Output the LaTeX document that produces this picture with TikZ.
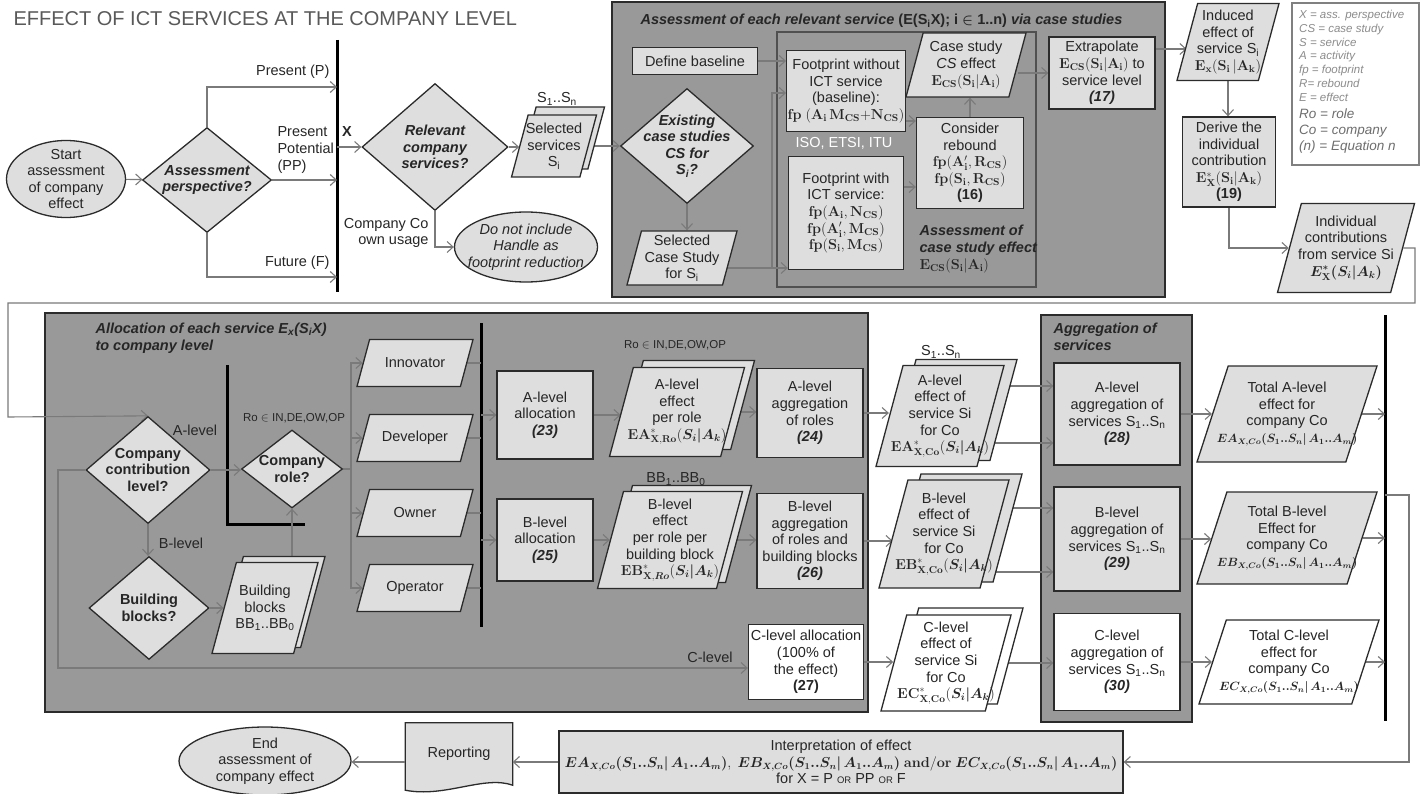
\documentclass[tikz,border=0pt]{standalone}
\usepackage[no-math]{fontspec}
\setmainfont{Liberation Sans}
\usepackage{amsmath,bm}
\usetikzlibrary{shapes.geometric,arrows.meta}

\definecolor{panel}{RGB}{153,153,153}
\definecolor{boxfill}{RGB}{222,222,222}
\definecolor{boxline}{RGB}{43,43,43}
\definecolor{innerline}{RGB}{80,80,80}
\definecolor{flowline}{RGB}{122,122,122}
\definecolor{ink}{RGB}{38,38,38}
\definecolor{titlegray}{RGB}{89,89,89}
\definecolor{legendA}{RGB}{140,140,140}
\definecolor{legendB}{RGB}{110,110,110}
\definecolor{legendframe}{RGB}{128,128,128}

\newcommand{\bodysize}{\fontsize{14.5}{16.6}\selectfont}
\newcommand{\smallsize}{\fontsize{11.5}{13.8}\selectfont}
\newcommand{\keysize}{\fontsize{13.5}{15.6}\selectfont}
\newcommand{\formulasize}{\fontsize{11.5}{13.5}\selectfont}
\newcommand{\headsize}{\fontsize{20}{24}\selectfont}
\newcommand{\orsize}{\fontsize{9.5}{10}\selectfont}

\pgfdeclarelayer{panels}
\pgfdeclarelayer{lines}
\pgfsetlayers{panels,lines,main}

\tikzset{
	box/.style={rectangle, draw=boxline, fill=boxfill, line width=1.3pt, inner sep=1pt, align=center},
	wbox/.style={box, fill=white},
	para/.style 2 args={trapezium, trapezium left angle=75, trapezium right angle=105, trapezium stretches body, draw=boxline, fill=boxfill, line width=1.3pt, inner xsep=0pt, inner ysep={#2/2}, minimum width=#1},
	wpara/.style 2 args={para={#1}{#2}, fill=white},
	widepara/.style 2 args={para={#1}{#2}, trapezium left angle=72, trapezium right angle=108},
	question/.style={diamond, draw=boxline, fill=boxfill, line width=1.3pt, inner sep=0pt},
	terminal/.style={ellipse, draw=boxline, fill=boxfill, line width=1.3pt, inner sep=0pt},
	lbl/.style={align=center, inner sep=0pt},
	txt/.style={label={[lbl]center:{#1}}},
	asktxt/.style={label={[lbl, font=\bodysize\bfseries\itshape]center:{#1}}},
	boldtxt/.style={label={[lbl, font=\bodysize\bfseries]center:{#1}}},
	itxt/.style={label={[lbl, font=\bodysize\itshape]center:{#1}}},
	flow/.style={draw=flowline, line width=1.1pt, -{Straight Barb[length=6pt, width=11pt]}},
	link/.style={draw=flowline, line width=1.1pt},
	bigbar/.style={draw=black, line width=3pt},
	panelbox/.style={draw=boxline, fill=panel, line width=1.4pt},
	smalltext/.style={font=\smallsize},
	heading/.style={font=\headsize, text=titlegray},
	areatitle/.style={font=\bodysize\bfseries\itshape, align=left},
	keysmall/.style={font=\smallsize\itshape, text=legendA, align=left, inner sep=0pt},
	keybig/.style={font=\keysize\itshape, text=legendB, align=left, inner sep=0pt}
}

\begin{document}
\begin{tikzpicture}[x=1pt, y=-1pt, every node/.style={font=\bodysize, text=ink}]
	\useasboundingbox (0, 0) rectangle (1426, 794);
	\begin{pgfonlayer}{panels}
		\draw [panelbox] (612, 2) rectangle (1165, 297);
		\draw [draw=innerline, line width=1.2pt] (777, 32) rectangle (1036, 287);
		\draw [draw=legendframe, fill=white, line width=1.2pt] (1292, 3) rectangle (1419, 165);
		\draw [panelbox] (45, 313) rectangle (868, 712);
		\draw [panelbox] (1041, 315) rectangle (1192, 722);
	\end{pgfonlayer}

	\draw (10, 18.5) node [anchor=west, heading] (title) {EFFECT OF ICT SERVICES AT THE COMPANY LEVEL};

	\draw (66, 179) node [terminal, minimum width=119, minimum height=77, txt={Start\\assessment\\of company\\effect}] (start) {};
	\draw (207, 180) node [question, minimum width=129, minimum height=105, asktxt={Assessment\\perspective?}] (persp) {};
	\coordinate (xbar) at (337, 40);
	\draw (333, 72) node [anchor=east] (lp) {Present (P)};
	\draw (274, 150) node [anchor=west, align=left] (lpp) {Present\\Potential\\(PP)};
	\draw (333, 263) node [anchor=east] (lf) {Future (F)};
	\draw (347, 132) node [font=\bodysize\bfseries] (lx) {X};
	\draw (435, 147) node [question, minimum width=146, minimum height=127, asktxt={Relevant\\company\\services?}] (rel) {};
	\draw (562, 138) node [para={85}{62}] (selback) {};
	\draw (554, 146) node [para={85}{62}, txt={Selected\\services\\S\textsubscript{i}}] (sel) {};
	\draw (557, 99) node (lsel) {S\textsubscript{1}..S\textsubscript{n}};
	\draw (526, 247) node [terminal, minimum width=143, minimum height=70, itxt={Do not include\\Handle as\\footprint reduction}] (skip) {};
	\draw (432, 233) node [anchor=east, align=right] (lown) {Company Co\\own usage};

	\draw (637, 21) node [anchor=west, areatitle] (asstitle) {Assessment of each relevant service \textup{(E(S\textsubscript{i}X); i $\bm{\in}$ 1..n)} via case studies};
	\draw (695, 61) node [box, minimum width=125, minimum height=27] (base) {Define baseline};
	\draw (687, 146) node [question, minimum width=133, minimum height=115, asktxt={Existing\\case studies\\CS for\\S\textsubscript{i}?}] (exist) {};
	\draw (682, 258) node [para={110}{54}, txt={Selected\\Case Study\\for S\textsubscript{i}}] (selcs) {};
	\draw (846, 91) node [box, minimum width=114, minimum height=81] (fpwo) {Footprint without\\ICT service\\(baseline):\\$\mathbf{fp\ (A_i\,M_{CS}{+}N_{CS})}$};
	\draw (844, 143) node [text=white] (iso) {ISO, ETSI, ITU};
	\draw (846, 213) node [box, minimum width=115, minimum height=113] (fpw) {Footprint with\\ICT service:\\$\mathbf{fp(A_i, N_{CS})}$\\$\mathbf{fp(A_i',M_{CS})}$\\$\mathbf{fp(S_i, M_{CS})}$};
	\draw (966, 65) node [para={120}{64}, txt={Case study\\\textit{CS} effect\\$\mathbf{E_{CS}(S_i|A_i)}$}] (cse) {};
	\draw (970, 163) node [box, minimum width=107, minimum height=91] (reb) {Consider\\rebound\\$\mathbf{fp(A_i', R_{CS})}$\\$\mathbf{fp(S_i, R_{CS})}$\\\textbf{(16)}};
	\draw (916, 249) node [anchor=west, align=left] (cslabel) {\textbf{\textit{Assessment of}}\\\textbf{\textit{case study effect}}\\$\mathbf{E_{CS}(S_i|A_i)}$};
	\draw (1102, 73) node [box, minimum width=106, minimum height=72] (extra) {Extrapolate\\$\mathbf{E_{CS}(S_i|A_i)}$ to\\service level\\\textbf{\textit{(17)}}};
	\draw (1228, 42) node [para={102}{77}, txt={Induced\\effect of\\service S\textsubscript{i}\\$\mathbf{E_x(S_i\,|A_k)}$}] (ind) {};
	\draw (1229, 162) node [box, minimum width=93, minimum height=90] (der) {Derive the\\individual\\contribution\\$\mathbf{E^*_X(S_i|A_k)}$\\\textbf{(19)}};
	\draw (1346, 248) node [para={137}{89}, txt={Individual\\contributions\\from service Si\\$\bm{E^*_{\mathbf{X}}(S_i|A_k)}$}] (indc) {};
	\draw (1299, 10) node [anchor=north west, keysmall] (legend1) {X = ass. perspective\\CS = case study\\S = service\\A = activity\\fp = footprint\\R= rebound\\E = effect};
	\draw (1299, 109) node [anchor=north west, keybig] (legend2) {Ro = role\\Co = company\\(n) = Equation n};

	\draw (92, 338) node [anchor=west, areatitle] (alloctitle) {Allocation of each service E\textsubscript{x}(S\textsubscript{i}X)\\to company level};
	\draw (148, 470) node [question, minimum width=124, minimum height=107, boldtxt={Company\\contribution\\level?}] (cl) {};
	\draw (195, 430) node (la) {A-level};
	\draw (292, 469) node [question, minimum width=101, minimum height=78, boldtxt={Company\\role?}] (role) {};
	\draw (294, 418) node [smalltext] (lro) {Ro $\in$ IN,DE,OW,OP};
	\draw (149, 608) node [question, minimum width=120, minimum height=103, boldtxt={Building\\blocks?}] (bb) {};
	\draw (181, 543) node (lb) {B-level};
	\draw (272, 602) node [para={106}{91}] (bbsback) {};
	\draw (265, 608) node [para={106}{91}, txt={Building\\blocks\\BB\textsubscript{1}..BB\textsubscript{0}}] (bbs) {};
	\foreach \nm/\rolename/\y in {inn/Innovator/363, dev/Developer/438, own/Owner/513, opr/Operator/588}
		\draw (415, \y) node [para={116}{47}, txt=\rolename] (\nm) {};
	\coordinate (rfork) at (351, 469);
	\coordinate (rbar) at (481, 323);
	\draw (545, 415) node [box, minimum width=96, minimum height=88] (aal) {A-level\\allocation\\\textbf{\textit{(23)}}};
	\draw (545, 540) node [box, minimum width=96, minimum height=82] (bal) {B-level\\allocation\\\textbf{\textit{(25)}}};
	\draw (675, 345) node [smalltext] (lro2) {Ro $\in$ IN,DE,OW,OP};
	\draw (687, 405) node [para={135}{89}] (aefback) {};
	\draw (677, 412) node [para={135}{89}, txt={A-level\\effect\\per role\\$\mathbf{EA}^{*}_{\mathbf{X,Ro}}(\bm{S_i|A_k})$}] (aef) {};
	\draw (679, 534) node [para={145}{97}] (befback) {};
	\draw (670, 540) node [para={145}{97}, txt={B-level\\effect\\per role per\\building block\\$\mathbf{EB}^{*}_{\mathbf{X},\bm{Ro}}(\bm{S_i|A_k})$}] (bef) {};
	\draw (676, 479) node (lbb) {BB\textsubscript{1}..BB\textsubscript{0}};
	\draw (810, 413) node [box, minimum width=106, minimum height=89] (aag) {A-level\\aggregation\\of roles\\\textbf{\textit{(24)}}};
	\draw (810, 541) node [box, minimum width=106, minimum height=95] (bag) {B-level\\aggregation\\of roles and\\building blocks\\\textbf{\textit{(26)}}};
	\draw (806, 662) node [wbox, minimum width=115, minimum height=75] (cal) {C-level allocation\\(100\% of\\the effect)\\\textbf{(27)}};
	\draw (710, 657) node (lc) {C-level};

	\draw (1050, 337) node [anchor=west, areatitle] (aggtitle) {Aggregation of\\services};
	\draw (941, 352) node (lsn) {S\textsubscript{1}..S\textsubscript{n}};
	\draw (953, 410) node [para={128}{101}] (asvback) {};
	\draw (940, 416) node [para={128}{101}, txt={A-level\\effect of\\service Si\\for Co\\$\mathbf{EA}^{*}_{\mathbf{X,Co}}(\bm{S_i|A_k})$}] (asv) {};
	\draw (957, 528) node [para={130}{108}] (bsvback) {};
	\draw (944, 534) node [para={130}{108}, txt={B-level\\effect of\\service Si\\for Co\\$\mathbf{EB}^{*}_{\mathbf{X,Co}}(\bm{S_i|A_k})$}] (bsv) {};
	\draw (958, 656) node [wpara={130}{96}] (csvback) {};
	\draw (946, 663) node [wpara={130}{96}, txt={C-level\\effect of\\service Si\\for Co\\$\mathbf{EC}^{*}_{\mathbf{X,Co}}(\bm{S_i|A_k})$}] (csv) {};
	\draw (1117, 414) node [box, minimum width=126, minimum height=102] (aag2) {A-level\\aggregation of\\services S\textsubscript{1}..S\textsubscript{n}\\\textbf{\textit{(28)}}};
	\draw (1117, 539) node [box, minimum width=126, minimum height=104] (bag2) {B-level\\aggregation of\\services S\textsubscript{1}..S\textsubscript{n}\\\textbf{\textit{(29)}}};
	\draw (1117, 662) node [wbox, minimum width=126, minimum height=97] (cag2) {C-level\\aggregation of\\services S\textsubscript{1}..S\textsubscript{n}\\\textbf{\textit{(30)}}};
	\draw (1287, 414) node [widepara={180}{96}, txt={Total A-level\\effect for\\company Co\\{\formulasize$\bm{EA_{X,Co}(S_1..S_n|\,A_1..A_m)}$}}] (tota) {};
	\draw (1287, 538) node [widepara={180}{92}, txt={Total B-level\\Effect for\\company Co\\{\formulasize$\bm{EB_{X,Co}(S_1..S_n|\,A_1..A_m)}$}}] (totb) {};
	\draw (1289, 662) node [widepara={180}{84}, fill=white, txt={Total C-level\\effect for\\company Co\\{\formulasize$\bm{EC_{X,Co}(S_1..S_n|\,A_1..A_m)}$}}] (totc) {};
	\coordinate (obar) at (1385, 315);

	\draw (841, 762) node [box, minimum width=564, minimum height=62] (interp) {Interpretation of effect\\{\fontsize{13.5}{16}\selectfont$\bm{EA_{X,Co}(S_1..S_n|\,A_1..A_m)},\ \bm{EB_{X,Co}(S_1..S_n|\,A_1..A_m)}\ \mathbf{and/or}\ \bm{EC_{X,Co}(S_1..S_n|\,A_1..A_m)}$}\\for X = P {\orsize OR} PP {\orsize OR} F};
	\draw (459, 754) node [minimum width=107, minimum height=62, inner sep=0pt] (rep) {Reporting};
	\draw (265, 761) node [terminal, minimum width=172, minimum height=68, txt={End\\assessment of\\company effect}] (finish) {};
	\begin{pgfonlayer}{panels}
		\draw [draw=boxline, fill=boxfill, line width=1.3pt] ([yshift=-5pt]rep.south west) -- (rep.north west) -- (rep.north east) -- (rep.south east) .. controls (484, 775) and (445, 798) .. ([yshift=-5pt]rep.south west) -- cycle;
	\end{pgfonlayer}

	\begin{pgfonlayer}{lines}
		\draw [bigbar] (xbar) -- (337, 292);
		\draw [bigbar] (rbar) -- (481, 627);
		\draw [bigbar] (227, 365) |- (305, 524);
		\draw [bigbar] (obar) -- (1385, 721);
		\path [flow] (start) edge (persp);
		\draw [flow] (persp.north) |- (xbar |- 0,87);
		\draw [flow] (persp.east) -- (persp.east -| xbar);
		\draw [flow] (persp.south) |- (xbar |- 0,277);
		\draw [flow] (xbar |- rel.west) -- (rel.west);
		\draw [flow] (rel.east) -- (rel.east -| sel.west);
		\draw [flow] (rel.south) |- (skip.west);
		\draw [flow] (sel.east) -- (sel.east -| exist.west);
		\coordinate (csfork) at (772, 268);
		\draw [link] (selcs |- csfork) -- (csfork);
		\draw [flow] (csfork) |- (fpwo.west |- 0,93);
		\draw [flow] (csfork) -- (csfork -| fpw.west);
		\draw [flow] (base) -- (base -| fpwo.west);
		\draw [flow] (exist.south) -- (exist.south |- selcs.north);
		\draw [flow] (fpwo.east |- 0,121) -- (reb.west |- 0,121);
		\draw [flow] (fpw.east |- 0,187) -- (reb.west |- 0,187);
		\draw [flow] (reb.north) -- (reb.north |- cse.south);
		\draw [flow] (cse.east |- extra.west) -- (extra.west);
		\draw [flow] (extra.east |- 0,49) -- (ind.west |- 0,49);
		\draw [flow] (ind.south) -- (ind.south |- der.north);
		\draw [flow] (der.south) |- (indc.west);
		\draw [flow] (indc.east) -| (1415, 303) -| (8, 417) -- (cl.north);
		\draw [flow] (cl.east) -- (cl.east -| role.west);
		\draw [flow] (cl.south) -- (cl.south |- bb.north);
		\draw [flow] (bb.east) -- (bb.east -| bbs.west);
		\draw [flow] (role.south |- bbs.north) -- (role.south);
		\draw [flow] (cl.west) -| (58, 668) -- (cal.west |- 0,668);
		\draw [link] (role.east) -- (rfork);
		\foreach \nm in {inn, dev, own, opr} {
			\draw [flow] (rfork) |- (\nm.west);
			\draw [link] (\nm.east) -- (\nm.east -| rbar);
		}
		\draw [flow] (aal.west -| rbar) -- (aal.west);
		\draw [flow] (bal.west -| rbar) -- (bal.west);
		\draw [flow] (aal.east) -- (aal.east -| aef.west);
		\draw [flow] (bal.east) -- (bal.east -| bef.west);
		\draw [flow] (aef.east) -- (aef.east -| aag.west);
		\draw [flow] (bef.east) -- (bef.east -| bag.west);
		\draw [flow] (aag.east) -- (aag.east -| asv.west);
		\draw [flow] (bag.east) -- (bag.east -| bsv.west);
		\draw [flow] (cal.east) -- (cal.east -| csv.west);
		\draw [flow] (asv |- 0,386) -- (aag2.west |- 0,386);
		\draw [flow] (asv |- 0,443) -- (aag2.west |- 0,443);
		\draw [flow] (bsv |- 0,508) -- (bag2.west |- 0,508);
		\draw [flow] (bsv |- 0,572) -- (bag2.west |- 0,572);
		\draw [flow] (csv) -- (csv -| cag2.west);
		\draw [flow] (aag2) -- (aag2 -| tota.west);
		\draw [flow] (bag2) -- (bag2 -| totb.west);
		\draw [flow] (cag2) -- (cag2 -| totc.west);
		\draw [flow] (tota) -- (tota -| obar);
		\draw [flow] (totb) -- (totb -| obar);
		\draw [flow] (totc) -- (totc -| obar);
		\draw [flow] (obar |- 0,495) -| (1409, 762) -- (interp.east);
		\draw [flow] (interp.west) -- (interp.west -| rep.east);
		\draw [flow] (rep.west |- interp.west) -- (finish.east |- interp.west);
	\end{pgfonlayer}
\end{tikzpicture}
\end{document}
